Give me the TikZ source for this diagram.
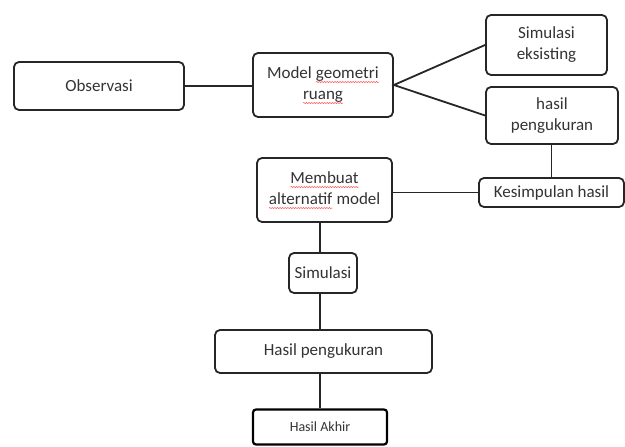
\documentclass[tikz,border=0pt]{standalone}
\usepackage{fontspec}
\setmainfont{Carlito}
\usetikzlibrary{decorations.pathmorphing}
\newcommand\squig[1]{\tikz[baseline=(w.base)]{\node[draw=none,fill=none,inner sep=0pt,outer sep=0pt,minimum width=0pt,minimum height=0pt,rounded corners=0pt](w){#1};\draw[draw=red!75,line width=0.5pt,rounded corners=0pt,decorate,decoration={snake,amplitude=0.5pt,segment length=2.6pt}] ([yshift=-4pt]w.base west) -- ([yshift=-4pt]w.base east);}}
\tikzset{
  box/.style={draw=black!85, line width=1.8pt, rounded corners=5pt, align=center,
    inner sep=0pt, text=black!80, font=\fontsize{17}{21}\selectfont},
  link/.style={draw=black!85, line width=1.8pt}
}
\begin{document}
\begin{tikzpicture}[x=1pt,y=1pt]
\useasboundingbox (0,0) rectangle (625,447);
\node[box, minimum width=170pt, minimum height=48pt] (obs) at (99,361) {Observasi};
\node[box, minimum width=140pt, minimum height=64pt] (model) at (323,362) {Model \squig{geometri}\\\squig{ruang}};
\node[box, minimum width=121pt, minimum height=60pt] (simex) at (546.5,402) {Simulasi\\eksisting};
\node[box, minimum width=132pt, minimum height=57pt] (hasil1) at (552,331.5) {hasil\\pengukuran};
\node[box, minimum width=145pt, minimum height=29pt] (kes) at (551.5,254.5) {Kesimpulan hasil};
\node[box, minimum width=135pt, minimum height=64pt] (membuat) at (324.5,257) {\squig{Membuat}\\\squig{alternatif} model};
\node[box, minimum width=68pt, minimum height=40pt] (sim) at (323,174) {Simulasi};
\node[box, minimum width=217pt, minimum height=43pt] (hasil2) at (323.5,95.5) {Hasil pengukuran};
\node[box, line width=2.2pt, draw=black, rounded corners=3pt, minimum width=134pt, minimum height=35pt, font=\fontsize{14}{17}\selectfont] (akhir) at (320,20) {Hasil Akhir};
\draw[link] (obs.east) -- (obs.east -| model.west);
\draw[link] (simex.west) -- (model.east) -- (hasil1.west);
\draw[link] (hasil1.south -| kes.north) -- (kes.north);
\draw[link] (kes.west) -- (kes.west -| membuat.east);
\draw[link] (membuat.south -| akhir.north) -- (sim.north -| akhir.north);
\draw[link] (sim.south -| akhir.north) -- (hasil2.north -| akhir.north);
\draw[link] (hasil2.south -| akhir.north) -- (akhir.north);
\end{tikzpicture}
\end{document}
